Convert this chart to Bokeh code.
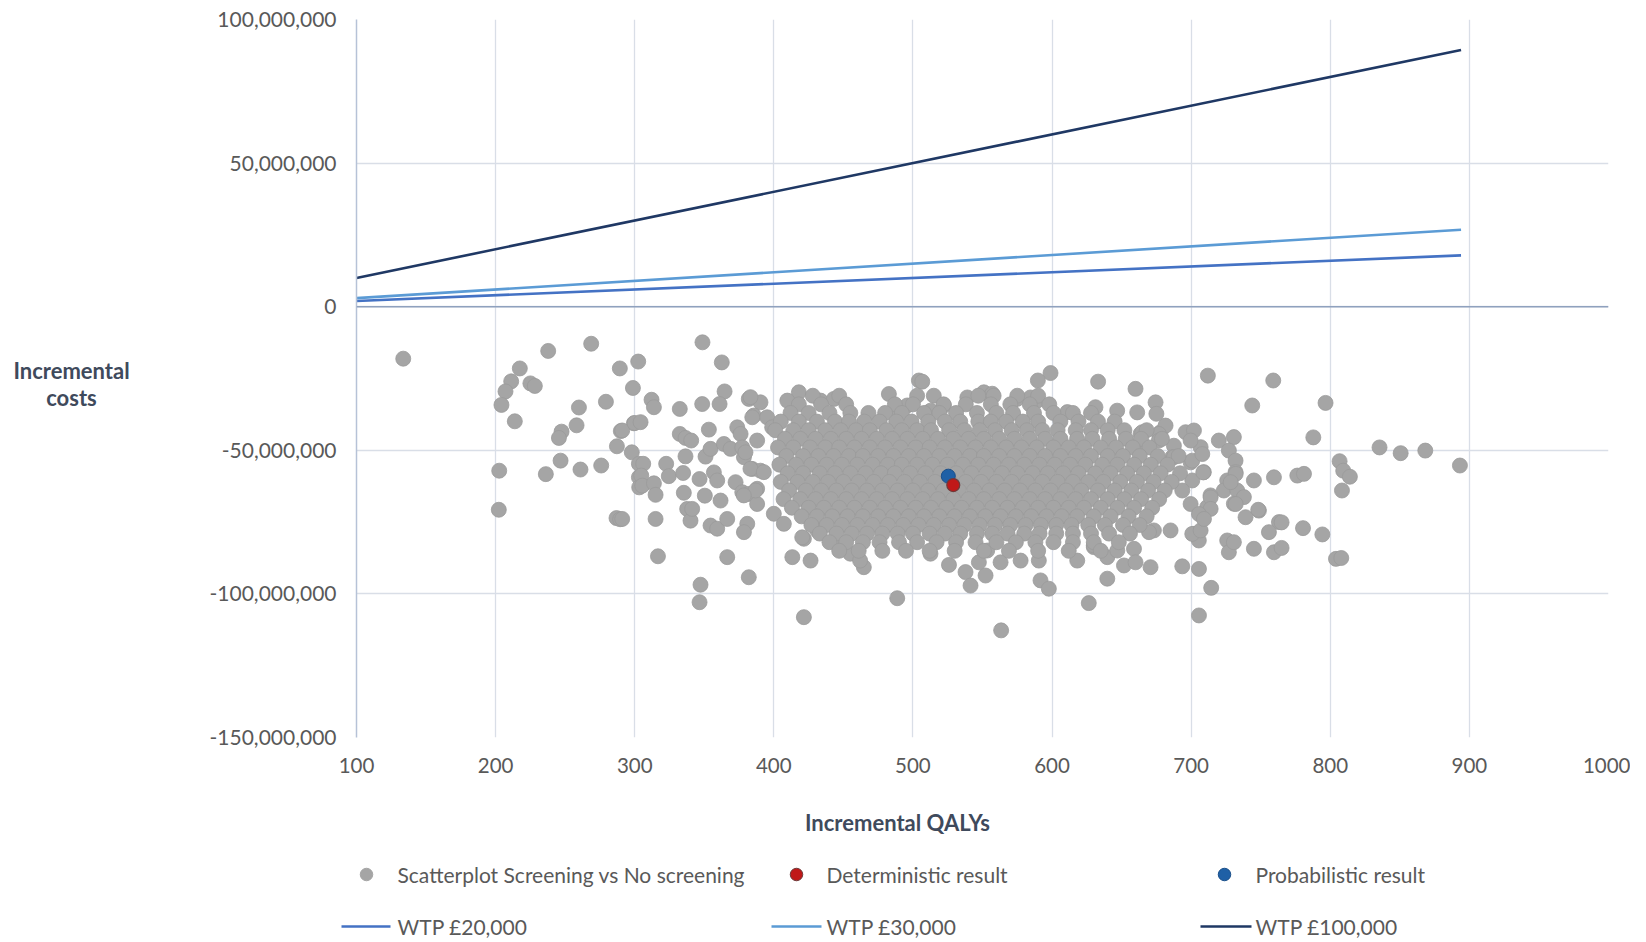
import numpy as np
from bokeh.plotting import figure
from bokeh.layouts import row, column
from bokeh.models import Range1d, Span, NumeralTickFormatter, FixedTicker, ColumnDataSource
from bokeh.core.properties import value
from bokeh.embed import file_html
from bokeh.resources import INLINE

FONT = "Lato"

# ---------------- data ----------------
x_ticks = [100, 200, 300, 400, 500, 600, 700, 800, 900, 1000]
y_ticks = [-150e6, -100e6, -50e6, 0, 50e6, 100e6]

wtp_labels = ["WTP £20,000", "WTP £30,000", "WTP £100,000"]
wtp_values = [20000, 30000, 100000]
wtp_qalys = [100, 894]

legend_point_labels = ["Scatterplot Screening vs No screening", "Deterministic result",
                       "Probabilistic result"]

deterministic_qalys = [529.0]
deterministic_costs_m = [-62.1]
probabilistic_qalys = [525.4]
probabilistic_costs_m = [-59.0]

# PSA iterations (QALYs, incremental cost in millions)
psa_outliers = [
    (133.6, -18.1), (237.8, -15.4), (268.7, -12.9), (217.4, -21.5), (211.2, -26.0), (207.1, -29.5),
    (204.2, -34.2), (213.8, -39.9), (225.0, -26.7), (228.2, -27.6), (259.9, -35.1), (279.3, -33.1),
    (289.3, -21.5), (302.5, -19.1), (298.7, -28.3), (258.2, -41.3), (247.4, -43.5), (245.5, -45.7),
    (290.0, -43.3), (299.4, -40.6), (287.2, -48.6), (297.9, -50.7), (202.6, -57.1), (202.3, -70.7),
    (236.1, -58.3), (246.7, -53.6), (261.0, -56.7), (275.9, -55.3), (286.9, -73.6), (289.5, -74.0),
    (303.0, -54.7), (303.0, -59.4), (303.2, -62.9),
    (348.7, -12.4), (362.6, -19.4), (364.6, -29.5), (361.0, -33.9), (348.5, -33.9), (332.4, -35.6),
    (312.1, -32.4), (313.8, -35.0), (291.0, -43.1), (299.9, -40.5), (304.2, -40.2), (306.1, -54.7),
    (304.7, -58.8), (305.4, -62.3), (313.8, -61.5), (315.0, -65.5), (322.6, -54.7), (324.5, -59.0),
    (291.0, -73.9), (315.0, -73.9), (316.7, -86.9), (332.4, -44.3), (336.5, -45.7), (340.6, -46.6),
    (353.3, -42.8), (336.5, -52.1), (334.8, -57.9), (335.3, -64.8), (337.7, -70.4), (340.1, -74.5),
    (341.3, -70.4), (346.6, -60.0), (350.4, -65.8), (350.9, -52.2), (354.5, -49.5), (356.9, -57.7),
    (359.3, -60.5), (361.7, -67.5), (354.5, -76.2), (359.3, -77.3), (366.5, -73.9), (366.5, -87.2),
    (347.3, -96.8), (346.6, -102.9), (382.0, -94.2), (380.9, -75.6), (378.5, -78.5), (364.1, -47.8),
    (368.9, -49.5), (373.7, -42.0), (376.1, -44.3), (382.0, -32.1), (390.4, -33.3), (385.6, -37.9),
    (395.2, -38.5), (388.0, -46.6), (398.8, -42.0), (377.3, -49.0), (378.5, -52.4), (384.5, -56.5),
    (390.4, -57.1), (372.5, -61.1), (377.3, -64.6), (382.0, -65.2), (388.0, -63.4), (388.0, -68.7),
    (413.3, -87.2), (426.4, -88.4), (421.6, -80.8), (464.7, -90.7), (488.7, -101.5), (421.6, -108.1),
    (418.0, -29.8), (409.7, -32.7), (433.6, -32.7), (443.2, -32.1), (482.7, -30.4), (504.3, -25.7),
    (488.7, -36.2), (495.9, -34.4),
    (383.2, -31.5), (384.5, -38.5), (379.6, -50.7), (383.2, -56.4), (392.8, -57.6), (386.8, -64.0),
    (378.4, -65.7), (400.0, -72.1), (407.2, -75.6), (420.4, -80.3), (431.2, -77.9), (445.6, -82.6),
    (455.0, -86.0), (462.0, -88.4),
    (506.7, -26.1), (598.9, -23.1), (589.8, -25.7), (633.1, -26.1), (660.0, -28.6), (674.4, -33.3),
    (675.0, -37.3), (661.2, -36.8), (646.8, -36.2), (631.2, -35.0), (551.0, -29.8), (555.8, -31.0),
    (539.1, -31.6), (522.3, -34.4), (512.7, -36.2), (574.9, -32.1), (584.5, -31.6), (589.3, -32.7),
    (663.6, -44.3), (678.0, -43.7), (681.6, -41.4), (687.6, -48.4), (686.4, -52.4), (696.0, -43.7),
    (702.0, -43.1), (699.6, -54.2), (700.8, -60.5), (661.2, -49.5), (525.9, -89.9), (537.8, -92.4),
    (541.4, -97.1), (552.2, -93.6), (591.7, -95.3), (597.7, -98.2), (626.4, -103.2), (618.1, -88.4),
    (639.7, -94.7), (670.8, -90.7), (651.7, -90.1), (658.9, -84.3), (693.6, -90.4), (705.6, -91.3),
    (705.6, -107.5), (673.2, -77.9), (685.2, -77.9), (702.0, -79.1), (630.0, -83.7), (639.7, -87.2),
    (512.6, -86.0), (547.4, -89.0), (553.4, -84.9), (563.0, -89.0), (577.4, -88.4), (590.5, -88.4),
    (630.0, -83.1), (557.0, -30.3), (611.0, -36.7), (563.4, -112.7),
    (676.8, -44.3), (664.8, -43.7), (663.6, -47.2), (676.8, -46.6), (706.8, -48.9), (700.8, -53.6),
    (687.6, -52.4), (719.9, -46.6), (730.7, -45.4), (727.1, -50.1), (731.9, -53.6), (731.9, -57.6),
    (725.9, -60.5), (723.5, -64.0), (733.1, -64.0), (737.9, -66.3), (730.7, -68.6), (713.9, -65.7),
    (711.5, -69.8), (709.1, -57.6), (745.1, -60.5), (759.5, -59.4), (748.7, -71.0), (739.1, -73.3),
    (763.1, -75.0), (755.9, -78.5), (725.9, -81.4), (727.1, -85.5), (745.1, -84.3), (759.5, -85.5),
    (743.9, -34.4), (646.9, -84.9), (669.7, -78.5), (660.0, -89.0), (705.5, -81.4),
    (712.0, -24.0), (759.0, -25.7), (796.6, -33.5), (787.8, -45.5), (835.4, -49.0), (850.6, -51.0),
    (868.3, -50.1), (893.2, -55.3), (806.7, -53.8), (809.3, -57.1), (814.1, -59.2), (808.4, -64.0),
    (804.1, -87.8), (807.9, -87.5), (794.3, -79.3), (780.4, -77.1), (765.0, -75.1), (765.0, -84.0),
    (730.7, -82.0), (714.4, -97.9), (700.8, -79.1), (706.8, -77.9), (748.2, -70.7), (776.3, -58.8),
    (781.1, -58.2), (699.6, -46.6), (708.0, -51.3), (708.7, -57.7), (732.0, -58.2), (728.4, -61.1),
    (732.0, -68.7), (714.0, -66.4), (714.0, -70.4), (693.6, -64.0), (699.6, -68.7), (705.6, -72.2),
    (709.2, -73.9),
]

# dense core of the cloud, read row by row (cost in millions, list of QALYs)
psa_cloud_rows = [
    (-31, [428, 447, 503, 515, 547, 558, 575, 590]),
    (-34, [418, 434, 452, 487, 500, 522, 538, 556, 570, 584, 598]),
    (-37, [412, 425, 440, 455, 468, 480, 492, 508, 519, 531, 546, 560, 572, 587, 601, 615, 628]),
    (-40, [405, 418, 431, 444, 454, 465, 476, 488, 499, 511, 523, 534, 547, 556, 567, 579, 590, 606, 619, 633, 645]),
    (-43, [401, 414, 425, 437, 448, 459, 469, 481, 492, 503, 513, 526, 537, 548, 559, 571, 582, 593, 604, 617, 628, 640, 652, 668]),
    (-46, [408, 419, 430, 441, 452, 463, 474, 485, 496, 507, 518, 529, 540, 551, 562, 573, 584, 595, 606, 618, 629, 641, 653, 664, 679]),
    (-49, [403, 414, 426, 437, 447, 458, 469, 480, 491, 502, 512, 523, 534, 545, 556, 567, 578, 589, 601, 612, 623, 635, 646, 658, 670]),
    (-52, [409, 421, 432, 443, 454, 464, 475, 486, 497, 508, 519, 530, 541, 551, 562, 573, 584, 595, 606, 617, 628, 640, 651, 663, 676, 691]),
    (-55, [404, 416, 427, 438, 449, 460, 471, 482, 492, 503, 514, 525, 536, 547, 558, 569, 580, 591, 602, 613, 624, 636, 647, 659, 671, 683]),
    (-58, [410, 421, 433, 444, 455, 466, 477, 487, 498, 509, 520, 531, 542, 553, 564, 575, 586, 597, 608, 619, 631, 642, 654, 666, 678, 692]),
    (-61, [405, 417, 428, 439, 450, 461, 472, 483, 494, 505, 516, 527, 538, 549, 560, 571, 582, 593, 604, 615, 626, 637, 649, 661, 673, 686]),
    (-64, [411, 423, 434, 445, 456, 467, 478, 489, 500, 511, 522, 533, 544, 555, 566, 577, 588, 599, 610, 621, 633, 645, 657, 669, 681]),
    (-67, [407, 419, 430, 441, 452, 463, 474, 485, 496, 507, 518, 529, 540, 551, 562, 573, 584, 595, 606, 617, 628, 640, 652, 664, 677]),
    (-70, [413, 425, 436, 447, 458, 469, 480, 491, 502, 513, 524, 535, 546, 557, 568, 579, 590, 601, 612, 623, 635, 647, 659, 672]),
    (-73, [420, 431, 442, 453, 464, 475, 486, 497, 508, 519, 530, 541, 552, 563, 574, 585, 596, 607, 618, 630, 642, 655, 668]),
    (-76, [427, 438, 449, 460, 471, 482, 493, 504, 515, 526, 537, 548, 559, 570, 581, 592, 603, 614, 626, 638, 651, 663]),
    (-79, [433, 445, 456, 467, 478, 489, 500, 512, 523, 534, 546, 557, 568, 580, 591, 603, 615, 628, 641, 656]),
    (-82, [440, 452, 464, 476, 490, 503, 517, 531, 545, 560, 574, 588, 601, 615, 630, 648]),
    (-85, [447, 461, 478, 495, 512, 530, 551, 569, 590, 612, 635]),
]

psa_qalys = [q for q, c in psa_outliers] + [q for c, qs in psa_cloud_rows for q in qs]
psa_costs = [c * 1e6 for q, c in psa_outliers] + [c * 1e6 for c, qs in psa_cloud_rows for q in qs]

# ---------------- styling ----------------
GRID = "#D9DEE7"
TICK_COL = "#595959"
TITLE_COL = "#3F4A5C"
PSA_FILL, PSA_LINE = "#A5A5A5", "#9B9B9B"
DET_FILL, DET_LINE = "#C01818", "#6E3A3A"
PROB_FILL, PROB_LINE = "#1F60A6", "#1A4F8A"
wtp_colors = ["#4472C4", "#5B9BD5", "#1F3864"]

TOTAL_W = 1630
SIDE_W = 200
MAIN_H = 800
BOTTOM_H = 142

# ---------------- main chart ----------------
p = figure(width=TOTAL_W - SIDE_W, height=MAIN_H, x_range=Range1d(100, 1000),
           y_range=Range1d(-150e6, 100e6), output_backend="svg", toolbar_location=None,
           min_border_left=356 - SIDE_W, min_border_right=TOTAL_W - 1608,
           min_border_top=19, min_border_bottom=MAIN_H - 737)
p.outline_line_color = None
p.background_fill_color = "white"
p.border_fill_color = "white"

for ax in (p.xaxis, p.yaxis):
    ax.major_tick_line_color = None
    ax.minor_tick_line_color = None
    ax.major_label_text_font = FONT
    ax.major_label_text_color = TICK_COL
p.xaxis.major_label_text_font_size = "20.5px"
p.yaxis.major_label_text_font_size = "21px"
p.xaxis.ticker = FixedTicker(ticks=x_ticks)
p.yaxis.ticker = FixedTicker(ticks=y_ticks)
p.yaxis.formatter = NumeralTickFormatter(format="0,0")
p.xaxis.axis_line_color = None
p.yaxis.axis_line_color = "#B6C2D7"
p.yaxis.axis_line_width = 1.5
p.xaxis.major_label_standoff = 14
p.yaxis.major_label_standoff = 14
p.xgrid.ticker = FixedTicker(ticks=x_ticks)
p.ygrid.ticker = FixedTicker(ticks=y_ticks)
p.grid.grid_line_color = GRID
p.grid.grid_line_width = 1.3

p.add_layout(Span(location=0, dimension="width", line_color="#8FA1BE", line_width=1.6))

for v, col in zip(wtp_values, wtp_colors):
    p.line(wtp_qalys, [v * q for q in wtp_qalys], line_color=col, line_width=2.6)

src = ColumnDataSource(dict(x=psa_qalys, y=psa_costs))
p.scatter("x", "y", source=src, size=15, fill_color=PSA_FILL, line_color=PSA_LINE, line_width=0.8)
p.scatter(probabilistic_qalys, [c * 1e6 for c in probabilistic_costs_m], size=14,
          fill_color=PROB_FILL, line_color=PROB_LINE, line_width=1)
p.scatter(deterministic_qalys, [c * 1e6 for c in deterministic_costs_m], size=13,
          fill_color=DET_FILL, line_color=DET_LINE, line_width=1.2)


def blank(w, h):
    f = figure(width=w, height=h, x_range=Range1d(0, w), y_range=Range1d(h, 0),
               x_axis_type=None, y_axis_type=None, output_backend="svg",
               toolbar_location=None, min_border=0)
    f.outline_line_color = None
    f.grid.visible = False
    f.background_fill_color = "white"
    f.border_fill_color = "white"
    return f


# ---------------- y-axis title (left strip) ----------------
side = blank(SIDE_W, MAIN_H)
side.text(x=[71, 71], y=[391, 421], text=["Incremental", "costs"], text_font=value(FONT),
          text_font_size="22px", text_font_style="bold", text_color=TITLE_COL,
          text_align="center", text_baseline="middle")

# ---------------- x-axis title and legend (bottom strip) ----------------
bot = blank(TOTAL_W, BOTTOM_H)
TOP = MAIN_H
bot.text(x=[897], y=[822 - TOP], text=["Incremental QALYs"], text_font=value(FONT),
         text_font_size="22px", text_font_style="bold", text_color=TITLE_COL,
         text_align="center", text_baseline="middle")

row1_y = 874 - TOP
row2_y = 926 - TOP
marker_x = [366, 796, 1224]
text_x1 = [397, 826, 1255]
line_x0 = [341, 771, 1200]
line_x1 = [390, 821, 1251]
text_x2 = [397, 826, 1255]

for mx, fc, lc in zip(marker_x, [PSA_FILL, DET_FILL, PROB_FILL], [PSA_FILL, DET_LINE, PROB_LINE]):
    bot.scatter([mx], [row1_y], size=12.5, fill_color=fc, line_color=lc, line_width=1)
bot.text(x=text_x1, y=[row1_y] * 3, text=legend_point_labels, text_font=value(FONT),
         text_font_size="21px", text_color=TICK_COL, text_baseline="middle")
for a, b, col in zip(line_x0, line_x1, wtp_colors):
    bot.line([a, b], [row2_y, row2_y], line_color=col, line_width=2.6)
bot.text(x=text_x2, y=[row2_y] * 3, text=wtp_labels, text_font=value(FONT),
         text_font_size="21px", text_color=TICK_COL, text_baseline="middle")

layout = column(row(side, p), bot)
open("out.html", "w").write(file_html(layout, INLINE))
